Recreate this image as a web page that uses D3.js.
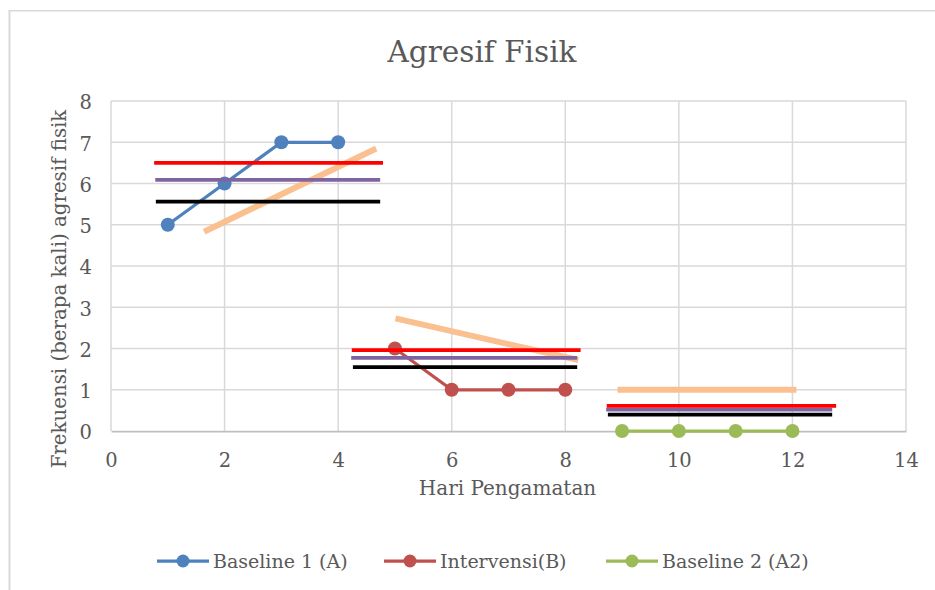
<!DOCTYPE html>
<html>
<head>
<meta charset="utf-8">
<script src="https://cdn.jsdelivr.net/npm/d3@7"></script>
<style>
  html, body { margin: 0; padding: 0; background: #fff; }
  svg { display: block; }
  text { font-family: "DejaVu Serif", serif; fill: #595959; }
</style>
</head>
<body>
<svg id="chart" width="935" height="590"></svg>
<script>
// ---- Data ----
const chartTitle = "Agresif Fisik";
const xTitle = "Hari Pengamatan";
const yTitle = "Frekuensi (berapa kali) agresif fisik";
const xTicks = [0, 2, 4, 6, 8, 10, 12, 14];
const yTicks = [0, 1, 2, 3, 4, 5, 6, 7, 8];

const seriesNames = ["Baseline 1 (A)", "Intervensi(B)", "Baseline 2 (A2)"];
const daysA = [1, 2, 3, 4];
const valuesA = [5, 6, 7, 7];
const daysB = [5, 6, 7, 8];
const valuesB = [2, 1, 1, 1];
const daysA2 = [9, 10, 11, 12];
const valuesA2 = [0, 0, 0, 0];

// Phase reference lines (x start, x end, level)
const redStart = [0.76, 4.24, 8.73];
const redEnd = [4.79, 8.27, 12.77];
const redLevel = [6.5, 1.96, 0.61];
const purpleStart = [0.78, 4.23, 8.72];
const purpleEnd = [4.74, 8.21, 12.70];
const purpleLevel = [6.09, 1.77, 0.52];
const blackStart = [0.79, 4.26, 8.75];
const blackEnd = [4.74, 8.21, 12.70];
const blackLevel = [5.56, 1.55, 0.40];
// Trend lines
const trendX0 = [1.64, 5.01, 8.92];
const trendY0 = [4.83, 2.73, 1.0];
const trendX1 = [4.67, 8.23, 12.07];
const trendY1 = [6.85, 1.72, 1.0];

// ---- Layout ----
const svg = d3.select("#chart");
const plot = { left: 111, right: 906, top: 101, bottom: 431 };
const x = d3.scaleLinear().domain([0, 14]).range([plot.left, plot.right]);
const y = d3.scaleLinear().domain([0, 8]).range([plot.bottom, plot.top]);

// Outer chart border (partial, as in reference)
svg.append("line").attr("x1", 9.5).attr("x2", 9.5).attr("y1", 10).attr("y2", 590)
  .attr("stroke", "#d9d9d9").attr("stroke-width", 2);
svg.append("line").attr("x1", 9).attr("x2", 935).attr("y1", 10.75).attr("y2", 10.75)
  .attr("stroke", "#d9d9d9").attr("stroke-width", 1.5);

// Gridlines
const grid = svg.append("g");
grid.selectAll("line.h").data(yTicks.filter(d => d > 0)).enter().append("line")
  .attr("x1", plot.left).attr("x2", plot.right)
  .attr("y1", d => y(d)).attr("y2", d => y(d))
  .attr("stroke", "#d9d9d9").attr("stroke-width", 1.5);
grid.selectAll("line.v").data(xTicks).enter().append("line")
  .attr("x1", d => x(d)).attr("x2", d => x(d))
  .attr("y1", plot.top).attr("y2", plot.bottom)
  .attr("stroke", "#d9d9d9").attr("stroke-width", 1.5);

// X axis
const xAxis = svg.append("g").attr("transform", `translate(0,${plot.bottom})`)
  .call(d3.axisBottom(x).tickValues(xTicks).tickSize(0).tickPadding(0));
xAxis.select(".domain").attr("stroke", "#bfbfbf").attr("stroke-width", 1.75);
xAxis.selectAll("text").attr("y", 36).attr("dy", 0)
  .style("font-family", "DejaVu Serif").style("font-size", "19.5px").attr("fill", "#595959");

// Y axis
const yAxis = svg.append("g").attr("transform", `translate(${plot.left},0)`)
  .call(d3.axisLeft(y).tickValues(yTicks).tickSize(0).tickPadding(0));
yAxis.select(".domain").remove();
yAxis.selectAll("text").attr("x", -19).attr("dy", "0.4em")
  .style("font-family", "DejaVu Serif").style("font-size", "19.5px").attr("fill", "#595959");

// Titles
svg.append("text").attr("x", 482).attr("y", 62).attr("text-anchor", "middle")
  .style("font-size", "29.5px").text(chartTitle);
svg.append("text").attr("x", 507.5).attr("y", 495).attr("text-anchor", "middle")
  .style("font-size", "20px").text(xTitle);
svg.append("text").attr("transform", "translate(66,289) rotate(-90)")
  .attr("text-anchor", "middle").style("font-size", "19.8px").text(yTitle);

// Series
const colors = ["#4f81bd", "#c0504d", "#9bbb59"];
const series = [
  { days: daysA, vals: valuesA },
  { days: daysB, vals: valuesB },
  { days: daysA2, vals: valuesA2 }
];
const line = d3.line().x(d => x(d[0])).y(d => y(d[1]));
series.forEach((s, i) => {
  const pts = s.days.map((d, j) => [d, s.vals[j]]);
  svg.append("path").attr("d", line(pts)).attr("fill", "none")
    .attr("stroke", colors[i]).attr("stroke-width", 3.25).attr("stroke-linejoin", "round");
  svg.selectAll(null).data(pts).enter().append("circle")
    .attr("cx", d => x(d[0])).attr("cy", d => y(d[1])).attr("r", 7)
    .attr("fill", colors[i]);
});

// Trend lines
svg.selectAll(null).data(trendX0).enter().append("line")
  .attr("x1", (d, i) => x(trendX0[i])).attr("y1", (d, i) => y(trendY0[i]))
  .attr("x2", (d, i) => x(trendX1[i])).attr("y2", (d, i) => y(trendY1[i]))
  .attr("stroke", "#fac090").attr("stroke-width", 6);

// Level lines
function levels(starts, ends, lv, color) {
  svg.selectAll(null).data(lv).enter().append("line")
    .attr("x1", (d, i) => x(starts[i])).attr("x2", (d, i) => x(ends[i]))
    .attr("y1", d => y(d)).attr("y2", d => y(d))
    .attr("stroke", color).attr("stroke-width", 3.75);
}
levels(blackStart, blackEnd, blackLevel, "#000000");
levels(purpleStart, purpleEnd, purpleLevel, "#8064a2");
levels(redStart, redEnd, redLevel, "#ff0000");

// Legend
const legendX = [157, 384, 606];
const legendY = 561;
seriesNames.forEach((name, i) => {
  const g = svg.append("g").attr("transform", `translate(${legendX[i]},${legendY})`);
  g.append("line").attr("x1", 0).attr("x2", 52).attr("y1", 0).attr("y2", 0)
    .attr("stroke", colors[i]).attr("stroke-width", 3.25);
  g.append("circle").attr("cx", 26).attr("cy", 0).attr("r", 6.5).attr("fill", colors[i]);
  g.append("text").attr("x", 56).attr("y", 6.5).style("font-size", "19px").text(name);
});
</script>
</body>
</html>
